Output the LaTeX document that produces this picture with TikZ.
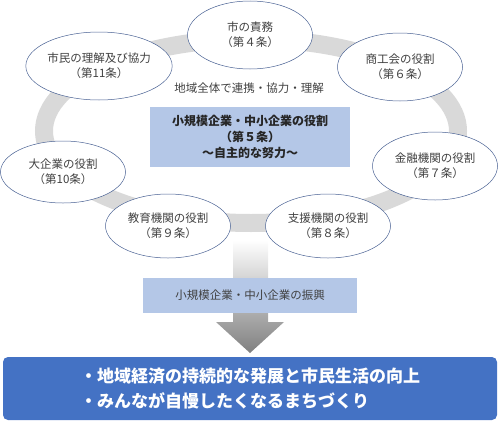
\documentclass[tikz,border=0pt]{standalone}
\usepackage{fontspec}
\setmainfont{Noto Sans CJK JP}
\usetikzlibrary{shapes.geometric}
\definecolor{ringgray}{HTML}{D9D9D9}
\definecolor{edgeblue}{HTML}{4A6294}
\definecolor{paleblue}{HTML}{B4C7E7}
\definecolor{deepblue}{HTML}{4472C4}
\definecolor{txtgray}{HTML}{404040}

\begin{document}
\begin{tikzpicture}[x=1pt, y=-1pt, >=stealth,
  every node/.style={font=\fontsize{11.5}{15}\selectfont, text=txtgray},
  role/.style={ellipse, draw=edgeblue, line width=0.5pt, fill=white, align=center,
    inner sep=0pt, minimum width=125pt, minimum height=68pt},
  panel/.style={fill=paleblue, inner sep=0pt, align=center}]
  \useasboundingbox (0,0) rectangle (500,423);

  % ring behind the roles
  \draw[ringgray, line width=18pt] (251,131) ellipse [x radius=207pt, y radius=92pt];

  \node[role] (duty) at (250,35) {市の責務\\（第４条）};
  \node[role] (chamber) at (400,67) {商工会の役割\\（第６条）};
  \node[role] (citizen) at (99,66) {市民の理解及び協力\\（第11条）};
  \node[role, minimum height=62pt] (large) at (63,172) {大企業の役割\\（第10条）};
  \node[role, minimum height=64pt] (school) at (168,226) {教育機関の役割\\（第９条）};
  \node[role, minimum height=64pt] (support) at (328,226) {支援機関の役割\\（第８条）};
  \node[role] (finance) at (435,166) {金融機関の役割\\（第７条）};

  \node (together) at (249,88) {地域全体で連携・協力・理解};
  \node[panel, minimum width=200pt, minimum height=60pt,
    font=\fontsize{12}{16}\selectfont\bfseries, text=black!85] (small) at (250,137)
    {小規模企業・中小企業の役割\\（第５条）\\～自主的な努力～};

  % big arrow down to the goals
  \shade[top color=white, bottom color=black!50]
    (233,240) -- (268,240) -- (268,322) -- (284,322) -- (250,353)
    -- (216,322) -- (233,322) -- cycle;

  \node[panel, minimum width=214pt, minimum height=35pt] (promote) at (250,295.5)
    {小規模企業・中小企業の振興};

  \node[fill=deepblue, rounded corners=5pt, minimum width=494pt, minimum height=63pt,
    align=left, text=white, font=\fontsize{17}{25}\selectfont\bfseries] (goal) at (250,388.5)
    {・地域経済の持続的な発展と市民生活の向上\\・みんなが自慢したくなるまちづくり};
\end{tikzpicture}
\end{document}
